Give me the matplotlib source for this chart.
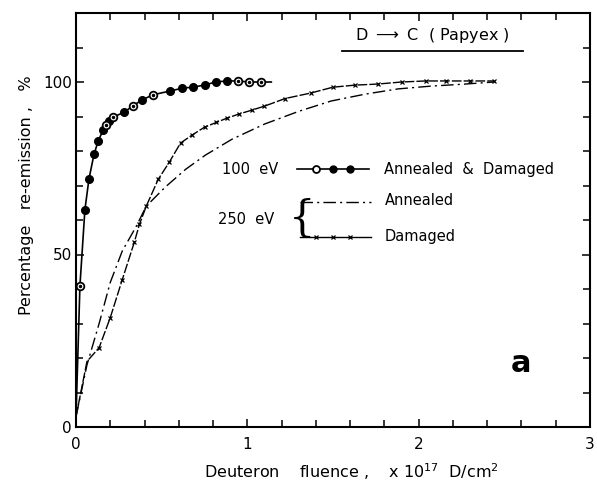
import numpy as np
import matplotlib
matplotlib.use("Agg")
import matplotlib.pyplot as plt

# 100 eV, annealed & damaged (circles)
e100_x = [0.0, 0.023, 0.052, 0.076, 0.105, 0.13, 0.158, 0.175, 0.19, 0.215, 0.28, 0.33,
          0.385, 0.45, 0.55, 0.62, 0.68, 0.75, 0.815, 0.88, 0.945, 1.01, 1.08, 1.14]
e100_y = [3, 41, 63, 72, 79, 83, 86, 87.5, 88.6, 89.8, 91.2, 93,
          94.8, 96.3, 97.4, 98.2, 98.5, 99.1, 100, 100.3, 100.3, 100, 100, 100]
e100_open = [1, 7, 9, 11, 13, 20, 21, 22]

# 250 eV, damaged (x markers)
dam_x = [0, 0.064, 0.135, 0.2, 0.27, 0.34, 0.37, 0.41, 0.48, 0.545, 0.61, 0.677, 0.75,
         0.82, 0.88, 0.95, 1.03, 1.1, 1.22, 1.37, 1.5, 1.63, 1.76, 1.9, 2.04, 2.16, 2.3, 2.44]
dam_y = [3, 19, 23, 31.7, 42.7, 53.5, 58.7, 64, 71.8, 76.8, 82.3, 84.6, 86.9,
         88.3, 89.5, 90.7, 91.9, 93, 95.2, 96.8, 98.5, 99.1, 99.4, 100, 100.3, 100.3, 100.3, 100.3]

# 250 eV, annealed (dash-dot)
ann_x = [0, 0.064, 0.135, 0.2, 0.27, 0.35, 0.41, 0.52, 0.64, 0.755, 0.91, 1.1, 1.3,
         1.49, 1.69, 1.88, 2.07, 2.27, 2.44]
ann_y = [3, 18, 30, 41.9, 51, 58, 64, 69.5, 74.7, 78.8, 83.4, 87.8, 91.5,
         94.5, 96.5, 98, 98.8, 99.4, 100]

plt.rcParams["font.family"] = ["DejaVu Sans"]

fig = plt.figure(figsize=(5.97, 4.84), dpi=100)
ax = fig.add_axes([76 / 597, 1 - 427 / 484, (590 - 76) / 597, (427 - 13) / 484])

ax.plot(e100_x, e100_y, color="black", lw=1.2)
filled = [i for i in range(1, len(e100_x) - 1) if i not in e100_open]
ax.plot([e100_x[i] for i in filled], [e100_y[i] for i in filled], "o", color="black",
        ms=5.5, mec="black")
ax.plot([e100_x[i] for i in e100_open], [e100_y[i] for i in e100_open], "o", color="black",
        ms=5.5, mfc="white", mec="black", mew=1.3)
ax.plot([e100_x[i] for i in e100_open], [e100_y[i] for i in e100_open], ".", color="black",
        ms=3)

ax.plot(ann_x, ann_y, color="black", lw=1.0, ls=(0, (9, 3, 1.5, 3)))
ax.plot(dam_x, dam_y, color="black", lw=1.0, ls=(0, (7, 1.5)))
ax.plot(dam_x[2:], dam_y[2:], "x", color="black", ms=3, mew=0.9)

ax.set_xlim(0, 3)
ax.set_ylim(0, 120)
ax.set_xticks([0, 1, 2, 3])
ax.set_xticks(np.arange(0, 3.01, 0.2), minor=True)
ax.set_yticks([0, 50, 100])
ax.set_yticks(np.arange(0, 121, 10), minor=True)
ax.tick_params(which="both", direction="in", top=True, right=True, width=1.1,
               labelsize=11)
ax.tick_params(which="major", length=6)
ax.tick_params(which="minor", length=5)
ax.tick_params(axis="x", pad=7)
ax.tick_params(axis="y", pad=3)
for s in ax.spines.values():
    s.set_linewidth(1.5)

# legend drawn by hand
ax.text(0.85, 74.7, "100  eV", fontsize=10.5, va="center", ha="left")
ax.plot([1.29, 1.71], [74.7, 74.7], color="black", lw=1.2)
ax.plot([1.50, 1.60], [74.7, 74.7], "o", color="black", ms=5)
ax.plot([1.40], [74.7], "o", color="black", ms=5, mfc="white", mew=1.3)
ax.text(1.80, 74.7, "Annealed  &  Damaged", fontsize=10.5, va="center", ha="left")

ax.text(0.83, 60.2, "250  eV", fontsize=10.5, va="center", ha="left")
ax.text(1.245, 60.4, "{", fontsize=30, va="center", ha="left", family="DejaVu Serif",
        fontweight="light")
ax.plot([1.31, 1.72], [65.1, 65.1], color="black", lw=1.0, ls=(0, (9, 3, 1.5, 3)))
ax.text(1.80, 65.6, "Annealed", fontsize=10.5, va="center", ha="left")
ax.plot([1.31, 1.72], [55.2, 55.2], color="black", lw=1.0)
ax.plot([1.40, 1.50, 1.60], [55.2] * 3, "x", color="black", ms=3, mew=0.9)
ax.text(1.80, 55.2, "Damaged", fontsize=10.5, va="center", ha="left")

# title with underline
ax.text(2.08, 113.5, "D $\\longrightarrow$ C  ( Papyex )", fontsize=11.5, va="center",
        ha="center")
ax.plot([1.55, 2.61], [109, 109], color="black", lw=1.3)

ax.text(2.6, 18.5, "a", fontsize=22, fontweight="bold", va="center", ha="center")

fig.text(351 / 597, 1 - 472 / 484, "Deuteron    fluence ,    x 10$^{17}$  D/cm$^{2}$",
         fontsize=11.5, ha="center", va="center")
fig.text(27 / 597, 1 - 195 / 484, "Percentage   re-emission ,   %", fontsize=11.5,
         rotation=90, ha="center", va="center")

fig.savefig("out.png", dpi=100)
